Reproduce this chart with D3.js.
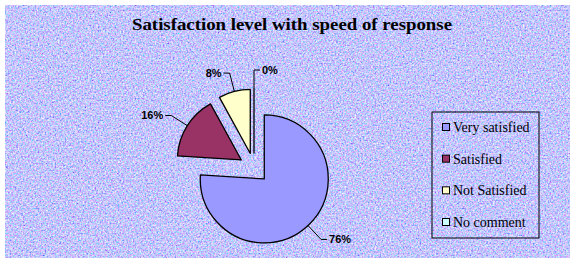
<!DOCTYPE html>
<html>
<head>
<meta charset="utf-8">
<script src="https://cdn.jsdelivr.net/npm/d3@7"></script>
<style>
  html, body { margin: 0; padding: 0; background: #fff; }
  svg { display: block; }
</style>
</head>
<body>
<svg id="chart" width="576" height="264"></svg>
<script>
var categories = ["Very satisfied", "Satisfied", "Not Satisfied", "No comment"];
var values = [76, 16, 8, 0];
var chartTitle = "Satisfaction level with speed of response";

var svg = d3.select("#chart");

var color = d3.scaleOrdinal()
    .domain(categories)
    .range(["#9999ff", "#993366", "#ffffcc", "#ccffff"]);

// speckled blue backdrop
var defs = svg.append("defs");
var grain = defs.append("filter")
    .attr("id", "grain")
    .attr("x", 0).attr("y", 0)
    .attr("width", "100%").attr("height", "100%");
grain.append("feTurbulence")
    .attr("type", "fractalNoise")
    .attr("baseFrequency", 0.6)
    .attr("numOctaves", 4)
    .attr("seed", 4);
grain.append("feColorMatrix")
    .attr("type", "matrix")
    .attr("values", "1.3 0 0 0 -0.1  0.3 1.1 0 0 -0.14  0 0 0.2 0 0.9  0 0 0 0 1");

svg.append("rect")
    .attr("x", 5).attr("y", 5)
    .attr("width", 565).attr("height", 253)
    .attr("fill", "#9ea6f8")
    .attr("filter", "url(#grain)");

svg.append("text")
    .attr("x", 292)
    .attr("y", 30)
    .attr("text-anchor", "middle")
    .attr("textLength", 320)
    .attr("lengthAdjust", "spacingAndGlyphs")
    .style("font-family", "'Liberation Serif', serif")
    .style("font-weight", "bold")
    .style("font-size", "16px")
    .text(chartTitle);

// pie
var cx = 254, cy = 168, radius = 64, explode = 15;

var pie = d3.pie().sort(null).value(function(d) { return d; });
var arc = d3.arc().innerRadius(0).outerRadius(radius);
var arcs = pie(values);

function mid(d) { return (d.startAngle + d.endAngle) / 2; }

var pieG = svg.append("g").attr("transform", "translate(" + cx + "," + cy + ")");

var slices = pieG.selectAll("g.slice")
    .data(arcs)
    .enter().append("g")
    .attr("class", "slice")
    .attr("transform", function(d) {
        var a = mid(d);
        return "translate(" + (Math.sin(a) * explode) + "," + (-Math.cos(a) * explode) + ")";
    });

slices.append("path")
    .attr("d", arc)
    .attr("fill", function(d, i) { return color(categories[i]); })
    .attr("stroke", "#000")
    .attr("stroke-width", 1.3)
    .attr("stroke-linejoin", "round");

// leader lines + labels
slices.each(function(d) {
    var a = mid(d);
    var sx = Math.sin(a), sy = -Math.cos(a);
    var side = sx < -0.01 ? -1 : 1;
    var p0 = [sx * radius, sy * radius];
    var p1 = [sx * (radius + 19), sy * (radius + 19)];
    var p2 = [p1[0] + side * 6, p1[1]];
    var g = d3.select(this);
    g.append("polyline")
        .attr("points", [p0, p1, p2].map(function(p) { return p.join(","); }).join(" "))
        .attr("fill", "none")
        .attr("stroke", "#000")
        .attr("stroke-width", 1);
    g.append("text")
        .attr("x", p2[0] + side * 2)
        .attr("y", p2[1])
        .attr("dy", "0.35em")
        .attr("text-anchor", side < 0 ? "end" : "start")
        .style("font-family", "'Liberation Sans', Arial, sans-serif")
        .style("font-weight", "bold")
        .style("font-size", "11px")
        .text(d.data + "%");
});

// legend
var legend = svg.append("g");
legend.append("rect")
    .attr("x", 432).attr("y", 112)
    .attr("width", 107).attr("height", 126)
    .attr("fill", "none")
    .attr("stroke", "#000")
    .attr("stroke-width", 1);

var rowY = d3.scalePoint().domain(categories).range([127, 222]);

var items = legend.selectAll("g.item")
    .data(categories)
    .enter().append("g")
    .attr("class", "item")
    .attr("transform", function(d) { return "translate(442," + rowY(d) + ")"; });

items.append("rect")
    .attr("x", 0.5).attr("y", -3.5)
    .attr("width", 7).attr("height", 7)
    .attr("fill", function(d) { return color(d); })
    .attr("stroke", "#000")
    .attr("stroke-width", 1);

items.append("text")
    .attr("x", 11)
    .attr("y", 0)
    .attr("dy", "0.35em")
    .style("font-family", "'Liberation Serif', serif")
    .style("font-size", "14px")
    .text(function(d) { return d; });
</script>
</body>
</html>
